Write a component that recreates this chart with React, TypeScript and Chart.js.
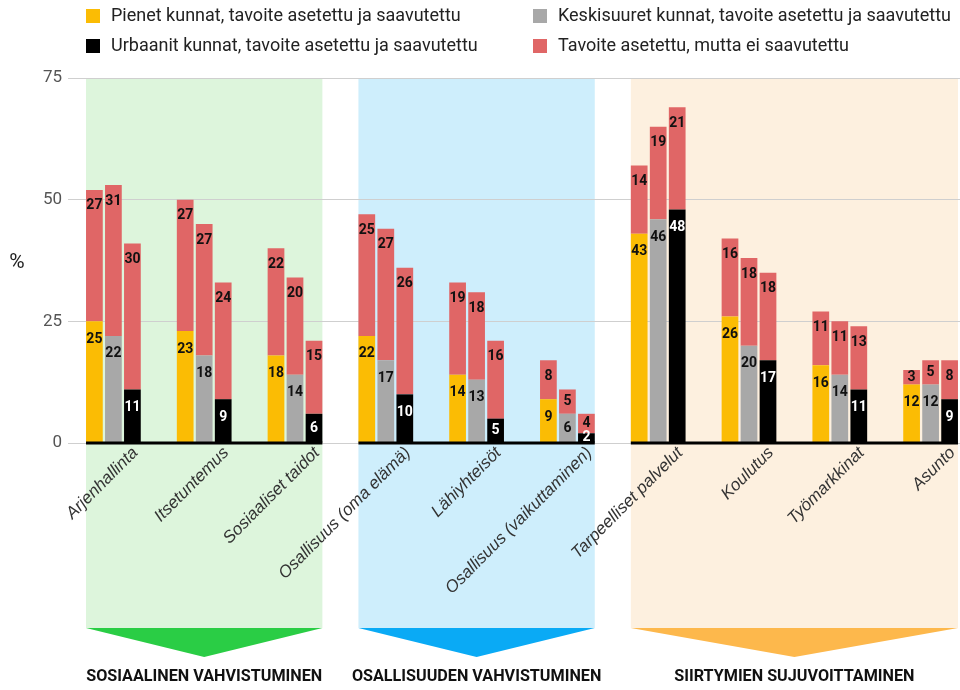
import React, { useEffect, useRef } from "react";
import { Chart, registerables } from "chart.js";

Chart.register(...registerables);

const categories = [
  "Arjenhallinta",
  "Itsetuntemus",
  "Sosiaaliset taidot",
  "Osallisuus (oma elämä)",
  "Lähiyhteisöt",
  "Osallisuus (vaikuttaminen)",
  "Tarpeelliset palvelut",
  "Koulutus",
  "Työmarkkinat",
  "Asunto",
];
const smallAchieved = [25, 23, 18, 22, 14, 9, 43, 26, 16, 12];
const smallNotAchieved = [27, 27, 22, 25, 19, 8, 14, 16, 11, 3];
const mediumAchieved = [22, 18, 14, 17, 13, 6, 46, 20, 14, 12];
const mediumNotAchieved = [31, 27, 20, 27, 18, 5, 19, 18, 11, 5];
const urbanAchieved = [11, 9, 6, 10, 5, 2, 48, 17, 11, 9];
const urbanNotAchieved = [30, 24, 15, 26, 16, 4, 21, 18, 13, 8];
const yTickValues = [0, 25, 50, 75];
const groupNames = [
  "SOSIAALINEN VAHVISTUMINEN",
  "OSALLISUUDEN VAHVISTUMINEN",
  "SIIRTYMIEN SUJUVOITTAMINEN",
];
const groupRanges = [
  [0, 2],
  [3, 5],
  [6, 9],
];
const legendLabels = [
  "Pienet kunnat, tavoite asetettu ja saavutettu",
  "Keskisuuret kunnat, tavoite asetettu ja saavutettu",
  "Urbaanit kunnat, tavoite asetettu ja saavutettu",
  "Tavoite asetettu, mutta ei saavutettu",
];

const YELLOW = "#FBBC04";
const GRAY = "#A8A8A8";
const BLACK = "#000000";
const RED = "#E06666";
const legendColors = [YELLOW, GRAY, BLACK, RED];
const panelColors = ["#DDF5DC", "#CEEEFC", "#FDF0DF"];
const triangleColors = ["#2ACD45", "#0AAAF5", "#FDB84C"];

const CAT_PCT = 0.628;
const BAR_PCT = 0.88;

function ds(label: string, data: number[], color: string, stack: string, kind: string) {
  return {
    label,
    data,
    backgroundColor: color,
    stack,
    kind,
    borderWidth: 0,
    categoryPercentage: CAT_PCT,
    barPercentage: BAR_PCT,
  } as any;
}

function groupSpan(chart: any, a: number, b: number) {
  const m0 = chart.getDatasetMeta(0).data[a];
  const m2 = chart.getDatasetMeta(2).data[b];
  const left = m0.x - m0.width / 2;
  const right = m2.x + m2.width / 2;
  return [left, right];
}

const decorPlugin = {
  id: "decor",
  beforeDraw(chart: any) {
    const ctx = chart.ctx;
    const area = chart.chartArea;
    const panelBottom = area.bottom + 185;
    const triBottom = area.bottom + 214;
    const labelY = area.bottom + 234;
    ctx.save();
    ctx.font = "bold 16px Roboto";
    const sx = 236 / ctx.measureText(groupNames[0]).width;
    groupRanges.forEach(([a, b], gi) => {
      const [left, right] = groupSpan(chart, a, b);
      ctx.fillStyle = panelColors[gi];
      ctx.fillRect(left, area.top, right - left, panelBottom - area.top);
      ctx.fillStyle = triangleColors[gi];
      ctx.beginPath();
      ctx.moveTo(left, panelBottom);
      ctx.lineTo(right, panelBottom);
      ctx.lineTo((left + right) / 2, triBottom);
      ctx.closePath();
      ctx.fill();
      const cx = gi === 2 ? (left + Math.min(right, 960)) / 2 : (left + right) / 2;
      ctx.save();
      ctx.translate(cx, labelY);
      ctx.scale(sx, 1);
      ctx.fillStyle = "#111";
      ctx.textAlign = "center";
      ctx.textBaseline = "middle";
      ctx.fillText(groupNames[gi], 0, 0);
      ctx.restore();
    });
    ctx.restore();
  },
  afterDatasetsDraw(chart: any) {
    const ctx = chart.ctx;
    const area = chart.chartArea;
    ctx.save();
    ctx.fillStyle = "#000";
    groupRanges.forEach(([a, b]) => {
      const [left, right] = groupSpan(chart, a, b);
      ctx.fillRect(left, area.bottom - 1.5, right - left, 3);
    });
    ctx.font = "bold 14px Roboto";
    ctx.textAlign = "center";
    ctx.textBaseline = "middle";
    chart.data.datasets.forEach((d: any, di: number) => {
      const meta = chart.getDatasetMeta(di);
      meta.data.forEach((el: any, i: number) => {
        const v = d.data[i];
        const top = Math.min(el.y, el.base);
        const h = Math.abs(el.base - el.y);
        const off = d.kind === "red" ? 16 : 18;
        const cy = top + Math.min(off, h / 2);
        ctx.fillStyle = d.kind === "urban" ? "#fff" : "#111";
        ctx.fillText(String(v), el.x, cy);
      });
    });
    ctx.restore();
  },
  afterDraw(chart: any) {
    const ctx = chart.ctx;
    ctx.save();
    ctx.font = "21px Roboto";
    ctx.fillStyle = "#222";
    ctx.textAlign = "center";
    ctx.textBaseline = "middle";
    const yScale = chart.scales.y;
    ctx.fillText("%", 17, (yScale.top + yScale.bottom) / 2 + 2);
    const pos = [
      [86, 16],
      [533, 16],
      [86, 46],
      [533, 46],
    ];
    ctx.font = "18px Roboto";
    ctx.textAlign = "left";
    legendLabels.forEach((lab, i) => {
      const [x, y] = pos[i];
      ctx.fillStyle = legendColors[i];
      ctx.fillRect(x, y - 7, 14, 14);
      ctx.fillStyle = "#222";
      ctx.fillText(lab, x + 25, y);
    });
    ctx.restore();
  },
};

export default function App() {
  const ref = useRef<HTMLCanvasElement | null>(null);
  useEffect(() => {
    if (!ref.current) return;
    const chart = new Chart(ref.current, {
      type: "bar",
      data: {
        labels: categories,
        datasets: [
          ds(legendLabels[0], smallAchieved, YELLOW, "a", "small"),
          ds(legendLabels[1], mediumAchieved, GRAY, "b", "medium"),
          ds(legendLabels[2], urbanAchieved, BLACK, "c", "urban"),
          ds(legendLabels[3], smallNotAchieved, RED, "a", "red"),
          ds(legendLabels[3], mediumNotAchieved, RED, "b", "red"),
          ds(legendLabels[3], urbanNotAchieved, RED, "c", "red"),
        ],
      },
      options: {
        animation: false,
        responsive: true,
        maintainAspectRatio: false,
        layout: { padding: { top: 78, right: 24, left: 0, bottom: 0 } },
        plugins: {
          legend: { display: false },
          tooltip: { enabled: false },
        },
        scales: {
          x: {
            stacked: true,
            grid: { display: false, drawTicks: false },
            border: { display: false },
            ticks: {
              autoSkip: false,
              minRotation: 45,
              maxRotation: 45,
              labelOffset: 22,
              padding: 0,
              color: "#333",
              font: { family: "Liberation Sans", style: "italic", size: 17 },
            },
            afterFit: (s: any) => {
              s.height = 247;
            },
          },
          y: {
            stacked: true,
            min: 0,
            max: 75,
            afterBuildTicks: (s: any) => {
              s.ticks = yTickValues.map((v) => ({ value: v }));
            },
            ticks: {
              padding: 6,
              color: "#555",
              font: { family: "Roboto", size: 17 },
            },
            grid: { color: "#cfcfcf", drawTicks: false },
            border: { display: false },
            afterFit: (s: any) => {
              s.width = 68;
            },
          },
        },
      } as any,
      plugins: [decorPlugin],
    });
    return () => chart.destroy();
  }, []);
  return (
    <div
      style={{
        position: "absolute",
        left: 0,
        top: 0,
        width: 960,
        height: 690,
        overflow: "hidden",
        background: "#fff",
      }}
    >
      <div style={{ position: "relative", width: 1000, height: 690 }}>
        <canvas ref={ref} />
      </div>
    </div>
  );
}
